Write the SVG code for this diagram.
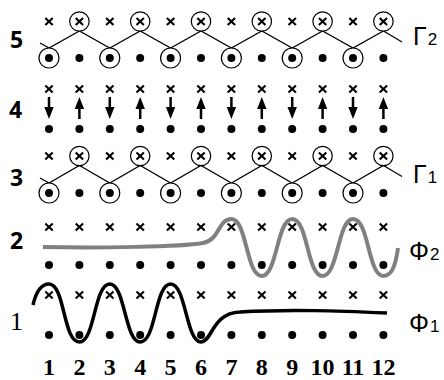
<svg xmlns="http://www.w3.org/2000/svg" xmlns:xlink="http://www.w3.org/1999/xlink" width="444" height="380" viewBox="0 0 444 380">
<style>
.x{stroke:#000;stroke-width:2.1;fill:none;stroke-linecap:butt}
.dot{fill:#000}
.ring{fill:#fff;stroke:#000;stroke-width:1.2}
.zig{fill:none;stroke:#000;stroke-width:1.2}
.rl{font-family:"Open Sans","DejaVu Sans",sans-serif;font-weight:700;font-size:23px;fill:#000}
.rls{font-family:"Liberation Serif",serif;font-size:26px;fill:#000}
.num{font-family:"Liberation Serif",serif;font-weight:700;font-size:24px;fill:#000;text-anchor:middle}
.gl{font-family:"Liberation Sans",sans-serif;font-size:25px;fill:#000}
.gs{font-family:"Liberation Sans",sans-serif;font-size:17px;fill:#000}
.shaft{stroke:#000;stroke-width:2.5}
</style>
<defs>
<g id="cr"><path class="x" d="M-3.7,-3.5L3.7,3.5M-3.7,3.5L3.7,-3.5"/></g>
<circle id="dt" class="dot" r="4"/>
<g id="ccr"><circle class="ring" r="9.7"/><path class="x" d="M-3.7,-3.5L3.7,3.5M-3.7,3.5L3.7,-3.5"/></g>
<g id="cdt"><circle class="ring" r="10"/><circle class="dot" r="4"/></g>
<g id="adn"><line class="shaft" x1="0" y1="97" x2="0" y2="109"/><path d="M-4.7,107L4.7,107L0,119Z"/></g>
<g id="aup"><line class="shaft" x1="0" y1="107" x2="0" y2="119"/><path d="M-4.7,109L4.7,109L0,97Z"/></g>
</defs>

<g id="connectors">
<path id="gamma2-line" class="zig" d="M40,43L49,48L79.4,31L109.8,48L140.2,31L170.6,48L201,31L231.4,48L261.8,31L292.2,48L322.6,31L353,48L383.4,31L402,42"/>
<path id="gamma1-line" class="zig" d="M40,178L49,183L79.4,165.5L109.8,183L140.2,165.5L170.6,183L201,165.5L231.4,183L261.8,165.5L292.2,183L322.6,165.5L353,183L383.4,165.5L402,176.5"/>
</g>

<g id="row5">
<use href="#cr" x="49" y="21.5"/><use href="#ccr" x="79.4" y="21.5"/><use href="#cr" x="109.8" y="21.5"/><use href="#ccr" x="140.2" y="21.5"/><use href="#cr" x="170.6" y="21.5"/><use href="#ccr" x="201" y="21.5"/><use href="#cr" x="231.4" y="21.5"/><use href="#ccr" x="261.8" y="21.5"/><use href="#cr" x="292.2" y="21.5"/><use href="#ccr" x="322.6" y="21.5"/><use href="#cr" x="353" y="21.5"/><use href="#ccr" x="383.4" y="21.5"/>
<use href="#cdt" x="49" y="58"/><use href="#dt" x="79.4" y="58"/><use href="#cdt" x="109.8" y="58"/><use href="#dt" x="140.2" y="58"/><use href="#cdt" x="170.6" y="58"/><use href="#dt" x="201" y="58"/><use href="#cdt" x="231.4" y="58"/><use href="#dt" x="261.8" y="58"/><use href="#cdt" x="292.2" y="58"/><use href="#dt" x="322.6" y="58"/><use href="#cdt" x="353" y="58"/><use href="#dt" x="383.4" y="58"/>
</g>

<g id="row4">
<use href="#cr" x="49" y="89"/><use href="#cr" x="79.4" y="89"/><use href="#cr" x="109.8" y="89"/><use href="#cr" x="140.2" y="89"/><use href="#cr" x="170.6" y="89"/><use href="#cr" x="201" y="89"/><use href="#cr" x="231.4" y="89"/><use href="#cr" x="261.8" y="89"/><use href="#cr" x="292.2" y="89"/><use href="#cr" x="322.6" y="89"/><use href="#cr" x="353" y="89"/><use href="#cr" x="383.4" y="89"/>
<use href="#adn" x="49"/><use href="#aup" x="79.4"/><use href="#adn" x="109.8"/><use href="#aup" x="140.2"/><use href="#adn" x="170.6"/><use href="#aup" x="201"/><use href="#adn" x="231.4"/><use href="#aup" x="261.8"/><use href="#adn" x="292.2"/><use href="#aup" x="322.6"/><use href="#adn" x="353"/><use href="#aup" x="383.4"/>
<use href="#dt" x="49" y="129"/><use href="#dt" x="79.4" y="129"/><use href="#dt" x="109.8" y="129"/><use href="#dt" x="140.2" y="129"/><use href="#dt" x="170.6" y="129"/><use href="#dt" x="201" y="129"/><use href="#dt" x="231.4" y="129"/><use href="#dt" x="261.8" y="129"/><use href="#dt" x="292.2" y="129"/><use href="#dt" x="322.6" y="129"/><use href="#dt" x="353" y="129"/><use href="#dt" x="383.4" y="129"/>
</g>

<g id="row3">
<use href="#cr" x="49" y="156"/><use href="#ccr" x="79.4" y="156"/><use href="#cr" x="109.8" y="156"/><use href="#ccr" x="140.2" y="156"/><use href="#cr" x="170.6" y="156"/><use href="#ccr" x="201" y="156"/><use href="#cr" x="231.4" y="156"/><use href="#ccr" x="261.8" y="156"/><use href="#cr" x="292.2" y="156"/><use href="#ccr" x="322.6" y="156"/><use href="#cr" x="353" y="156"/><use href="#ccr" x="383.4" y="156"/>
<use href="#cdt" x="49" y="193"/><use href="#dt" x="79.4" y="193"/><use href="#cdt" x="109.8" y="193"/><use href="#dt" x="140.2" y="193"/><use href="#cdt" x="170.6" y="193"/><use href="#dt" x="201" y="193"/><use href="#cdt" x="231.4" y="193"/><use href="#dt" x="261.8" y="193"/><use href="#cdt" x="292.2" y="193"/><use href="#dt" x="322.6" y="193"/><use href="#cdt" x="353" y="193"/><use href="#dt" x="383.4" y="193"/>
</g>

<g id="row2">
<use href="#cr" x="49" y="227"/><use href="#cr" x="79.4" y="227"/><use href="#cr" x="109.8" y="227"/><use href="#cr" x="140.2" y="227"/><use href="#cr" x="170.6" y="227"/><use href="#cr" x="201" y="227"/><use href="#cr" x="231.4" y="227"/><use href="#cr" x="261.8" y="227"/><use href="#cr" x="292.2" y="227"/><use href="#cr" x="322.6" y="227"/><use href="#cr" x="353" y="227"/><use href="#cr" x="383.4" y="227"/>
<use href="#dt" x="49" y="265"/><use href="#dt" x="79.4" y="265"/><use href="#dt" x="109.8" y="265"/><use href="#dt" x="140.2" y="265"/><use href="#dt" x="170.6" y="265"/><use href="#dt" x="201" y="265"/><use href="#dt" x="231.4" y="265"/><use href="#dt" x="261.8" y="265"/><use href="#dt" x="292.2" y="265"/><use href="#dt" x="322.6" y="265"/><use href="#dt" x="353" y="265"/><use href="#dt" x="383.4" y="265"/>
<path id="phi2-curve" fill="none" stroke="#808080" stroke-width="4" d="M43,247C100,248 180,247 203,243C220,240 218,219 231.4,219C247,219 246,276 261.8,276C277,276 277,219 292.2,219C308,219 307,276 322.6,276C338,276 338,219 353,219C369,219 368,276 383.4,276C393,276 396,262 398,248"/>
</g>

<g id="row1">
<use href="#cr" x="49" y="295"/><use href="#cr" x="79.4" y="295"/><use href="#cr" x="109.8" y="295"/><use href="#cr" x="140.2" y="295"/><use href="#cr" x="170.6" y="295"/><use href="#cr" x="201" y="295"/><use href="#cr" x="231.4" y="295"/><use href="#cr" x="261.8" y="295"/><use href="#cr" x="292.2" y="295"/><use href="#cr" x="322.6" y="295"/><use href="#cr" x="353" y="295"/><use href="#cr" x="383.4" y="295"/>
<use href="#dt" x="49" y="335"/><use href="#dt" x="79.4" y="335"/><use href="#dt" x="109.8" y="335"/><use href="#dt" x="140.2" y="335"/><use href="#dt" x="170.6" y="335"/><use href="#dt" x="201" y="335"/><use href="#dt" x="231.4" y="335"/><use href="#dt" x="261.8" y="335"/><use href="#dt" x="292.2" y="335"/><use href="#dt" x="322.6" y="335"/><use href="#dt" x="353" y="335"/><use href="#dt" x="383.4" y="335"/>
<path id="phi1-curve" fill="none" stroke="#000" stroke-width="3.5" d="M33,305C36,292 41,284 49,284C65,284 63,342 79.4,342C95,342 94,284 109.8,284C125,284 125,342 140.2,342C156,342 155,284 170.6,284C186,284 186,342 201,342C212,342 212,313 240,312C290,309 340,311 387,313"/>
</g>

<g id="row-labels">
<text class="rl" x="10" y="48">5</text>
<text class="rl" x="9" y="118">4</text>
<text class="rl" x="10" y="186">3</text>
<text class="rl" x="10" y="249">2</text>
<text class="rls" x="10" y="330">1</text>
</g>

<g id="curve-labels">
<text x="413" y="45"><tspan class="gl">Γ</tspan><tspan class="gs" dx="1">2</tspan></text>
<text x="413" y="183"><tspan class="gl">Γ</tspan><tspan class="gs" dx="1">1</tspan></text>
<text x="409" y="260"><tspan class="gl">Φ</tspan><tspan class="gs" dx="1">2</tspan></text>
<text x="409" y="332"><tspan class="gl">Φ</tspan><tspan class="gs" dx="1">1</tspan></text>
</g>

<g id="column-numbers">
<text class="num" x="49" y="375">1</text><text class="num" x="79.4" y="375">2</text><text class="num" x="109.8" y="375">3</text><text class="num" x="140.2" y="375">4</text><text class="num" x="170.6" y="375">5</text><text class="num" x="201" y="375">6</text><text class="num" x="231.4" y="375">7</text><text class="num" x="261.8" y="375">8</text><text class="num" x="292.2" y="375">9</text><text class="num" x="322.6" y="375">10</text><text class="num" x="353" y="375">11</text><text class="num" x="383.4" y="375">12</text>
</g>
</svg>
